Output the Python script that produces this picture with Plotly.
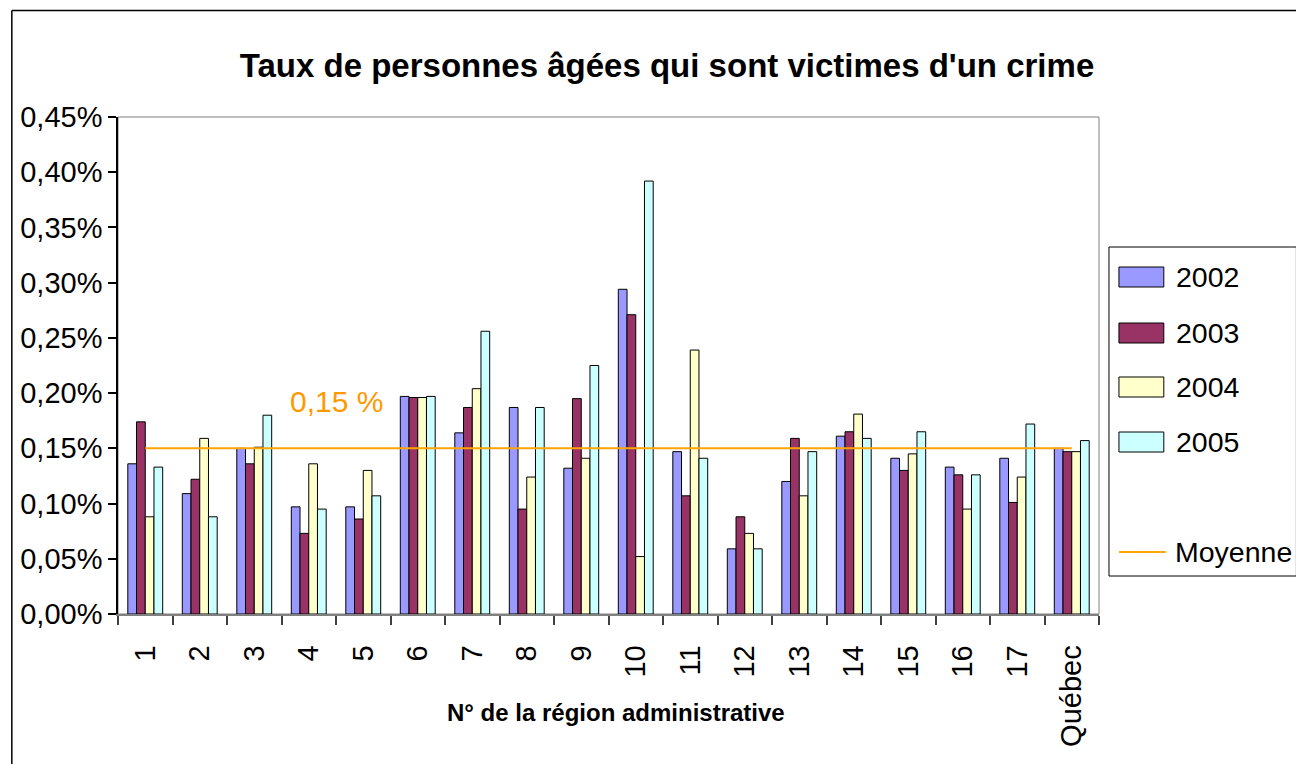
import plotly.graph_objects as go
import numpy as np

categories = [str(i) for i in range(1, 18)] + ["Québec"]

# values in percent
v2002 = [0.136, 0.109, 0.150, 0.097, 0.097, 0.197, 0.164, 0.187, 0.132, 0.294, 0.147, 0.059, 0.120, 0.161, 0.141, 0.133, 0.141, 0.150]
v2003 = [0.174, 0.122, 0.136, 0.073, 0.086, 0.196, 0.187, 0.095, 0.195, 0.271, 0.107, 0.088, 0.159, 0.165, 0.130, 0.126, 0.101, 0.147]
v2004 = [0.088, 0.159, 0.151, 0.136, 0.130, 0.196, 0.204, 0.124, 0.141, 0.052, 0.239, 0.073, 0.107, 0.181, 0.145, 0.095, 0.124, 0.147]
v2005 = [0.133, 0.088, 0.180, 0.095, 0.107, 0.197, 0.256, 0.187, 0.225, 0.392, 0.141, 0.059, 0.147, 0.159, 0.165, 0.126, 0.172, 0.157]
moyenne = 0.15

series_names = ["2002", "2003", "2004", "2005"]
series_values = [v2002, v2003, v2004, v2005]
series_colors = ["#9999FF", "#993366", "#FFFFCC", "#CCFFFF"]
line_color = "#FFA500"
text_orange = "#FF9900"

OFF = 8  # page body margin
W, H = 1304 - OFF, 764 - OFF
L, R, T, B = 115, 1099, 117, 614  # plot area in window pixels


def pxx(px):
    return (px - L) / (R - L)


def pxy(py):
    return (B - py) / (B - T)


fig = go.Figure()
for name, vals, col in zip(series_names, series_values, series_colors):
    fig.add_trace(go.Bar(
        x=categories, y=np.array(vals) / 100, name=name,
        marker=dict(color=col, line=dict(color="#000000", width=1)),
        showlegend=False,
    ))

fig.add_trace(go.Scatter(
    x=categories, y=[moyenne / 100] * len(categories), mode="lines",
    line=dict(color=line_color, width=2), name="Moyenne", showlegend=False,
))

shapes = []
annotations = []

# plot area border (grey)
shapes.append(dict(type="rect", xref="paper", yref="paper", x0=0, x1=1, y0=0, y1=1,
                   line=dict(color="#808080", width=1), layer="below"))
# outer chart border (top and left)
shapes.append(dict(type="line", xref="paper", yref="paper", x0=pxx(8.5), x1=pxx(1310),
                   y0=pxy(10.5), y1=pxy(10.5), line=dict(color="#000000", width=1.5)))
shapes.append(dict(type="line", xref="paper", yref="paper", x0=pxx(8.5), x1=pxx(8.5),
                   y0=pxy(10.5), y1=pxy(770), line=dict(color="#000000", width=1.5)))

legend_font = dict(family="Liberation Sans, Arial", size=28.5, color="black")
# legend box
shapes.append(dict(type="rect", xref="paper", yref="paper", x0=pxx(1109), x1=pxx(1297),
                   y0=pxy(247), y1=pxy(576), line=dict(color="#000000", width=1),
                   fillcolor="white"))
legend_y = [277, 333, 387, 442]
for name, col, ly in zip(series_names, series_colors, legend_y):
    shapes.append(dict(type="rect", xref="paper", yref="paper", x0=pxx(1119), x1=pxx(1164),
                       y0=pxy(ly - 10), y1=pxy(ly + 10), line=dict(color="#000000", width=1),
                       fillcolor=col))
    annotations.append(dict(x=pxx(1174), y=pxy(ly), xref="paper", yref="paper", text=name,
                            showarrow=False, xanchor="left", yanchor="middle", font=legend_font))
shapes.append(dict(type="line", xref="paper", yref="paper", x0=pxx(1119), x1=pxx(1166),
                   y0=pxy(552), y1=pxy(552), line=dict(color=line_color, width=2)))
annotations.append(dict(x=pxx(1173), y=pxy(552), xref="paper", yref="paper", text="Moyenne",
                        showarrow=False, xanchor="left", yanchor="middle", font=legend_font))

# average label
annotations.append(dict(x=3.5, y=0.00192, xref="x", yref="y", text="0,15 %", showarrow=False,
                        xanchor="center", yanchor="middle",
                        font=dict(family="Liberation Sans, Arial", size=30, color=text_orange)))

# x axis title
annotations.append(dict(x=pxx(615), y=pxy(712), xref="paper", yref="paper",
                        text="<b>N° de la région administrative</b>", showarrow=False,
                        xanchor="center", yanchor="middle",
                        font=dict(family="Liberation Sans, Arial", size=24, color="black")))

fig.update_layout(
    width=W, height=H,
    margin=dict(l=L - OFF, r=1304 - R, t=T - OFF, b=764 - B, pad=0),
    paper_bgcolor="white", plot_bgcolor="white",
    separators=", ",
    barmode="group", bargap=0.36, bargroupgap=0,
    title=dict(text="<b>Taux de personnes âgées qui sont victimes d'un crime</b>",
               xref="container", yref="container", x=(667 - OFF) / W, y=1 - (65 - OFF) / H,
               xanchor="center", yanchor="middle",
               font=dict(family="Liberation Sans, Arial", size=33, color="black")),
    shapes=shapes, annotations=annotations,
    showlegend=False,
    font=dict(family="Liberation Sans, Arial", color="black"),
)

fig.update_xaxes(
    type="category", showgrid=False, zeroline=False,
    showline=True, linecolor="#808080", linewidth=1.5,
    ticks="outside", ticklen=9, tickcolor="#404040", tickwidth=1.5, tickson="boundaries",
    tickangle=-90, tickfont=dict(family="Liberation Sans, Arial", size=29, color="black"),
    ticklabelstandoff=18,
)
fig.update_yaxes(
    range=[0, 0.0045], dtick=0.0005, tick0=0, tickformat=".2%",
    showgrid=False, zeroline=False,
    showline=True, linecolor="#000000", linewidth=1.5,
    ticks="outside", ticklen=8, tickcolor="#000000", tickwidth=1.5,
    tickfont=dict(family="Liberation Sans, Arial", size=29, color="black"),
)

fig.write_html("out.html")
